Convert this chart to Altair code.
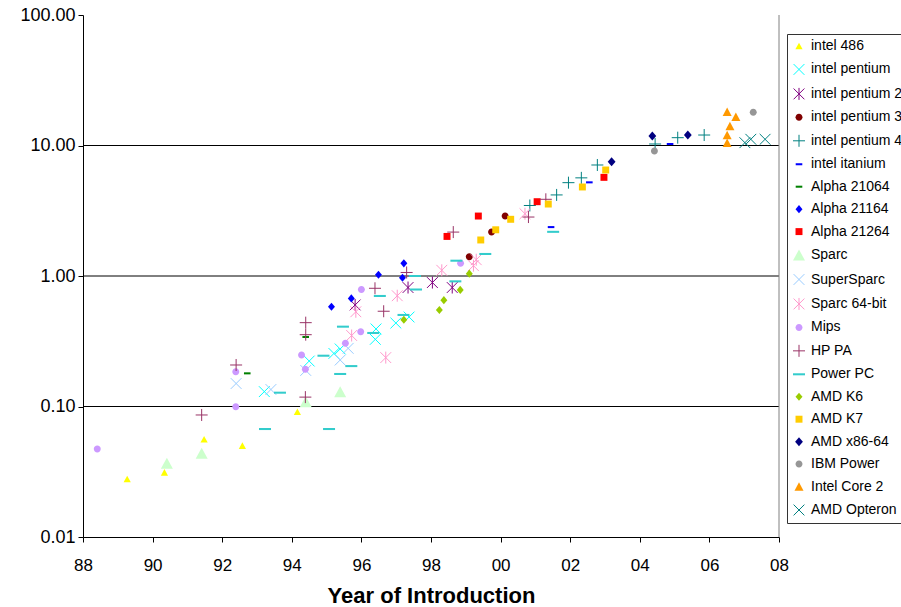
import altair as alt
import pandas as pd

SERIES = ["intel 486", "intel pentium", "intel pentium 2", "intel pentium 3",
          "intel pentium 4", "intel itanium", "Alpha 21064", "Alpha 21164",
          "Alpha 21264", "Sparc", "SuperSparc", "Sparc 64-bit", "Mips", "HP PA",
          "Power PC", "AMD K6", "AMD K7", "AMD x86-64", "IBM Power",
          "Intel Core 2", "AMD Opteron"]

# ---- data (year of introduction, relative performance) ----
i486_year = [1989.27, 1990.34, 1991.48, 1992.58, 1994.16]
i486_val = [0.0278, 0.0313, 0.0561, 0.0501, 0.0912]

pentium_year = [1993.21, 1994.50, 1995.21, 1995.39, 1996.42, 1996.40, 1996.99, 1997.37]
pentium_val = [0.130, 0.223, 0.255, 0.276, 0.393, 0.327, 0.436, 0.485]

pentium2_year = [1995.82, 1997.34, 1998.04, 1998.61]
pentium2_val = [0.600, 0.816, 0.891, 0.816]

pentium3_year = [1999.10, 1999.74, 2000.13]
pentium3_val = [1.406, 2.17, 2.88]

pentium4_year = [2000.84, 2001.61, 2001.95, 2002.32, 2002.78, 2004.44, 2005.09, 2005.85]
pentium4_val = [3.47, 4.18, 5.19, 5.65, 7.09, 10.27, 11.48, 12.03]

itanium_year = [2001.45, 2002.55, 2004.87]
itanium_val = [2.37, 5.22, 10.27]

alpha64_year = [1992.72, 1994.40]
alpha64_val = [0.1795, 0.341]

alpha164_year = [1995.14, 1995.71, 1996.49, 1997.18, 1997.22]
alpha164_val = [0.581, 0.673, 1.023, 0.970, 1.25]

alpha264_year = [1998.46, 1999.36, 2001.05, 2002.97]
alpha264_val = [2.01, 2.88, 3.71, 5.70]

sparc_year = [1990.41, 1991.41, 1994.40, 1995.39]
sparc_val = [0.0367, 0.0438, 0.1089, 0.1298]

supersparc_year = [1992.40, 1993.40, 1994.40, 1995.39, 1995.62]
supersparc_val = [0.150, 0.135, 0.189, 0.227, 0.279]

sparc64_year = [1995.72, 1995.84, 1996.70, 1997.03, 1998.31, 1999.30, 1999.22, 2000.70]
sparc64_val = [0.350, 0.532, 0.237, 0.706, 1.106, 1.333, 1.20, 3.00]

mips_year = [1988.41, 1992.39, 1992.39, 1994.28, 1994.39, 1995.54, 1995.98, 1996.00, 1998.85]
mips_val = [0.0472, 0.0996, 0.1849, 0.248, 0.193, 0.305, 0.374, 0.788, 1.25]

hppa_year = [1991.41, 1992.40, 1994.39, 1994.40, 1994.40, 1996.39, 1996.64, 1997.30,
             1998.64, 2000.80, 2001.30]
hppa_val = [0.0861, 0.208, 0.118, 0.355, 0.439, 0.805, 0.537, 1.064, 2.17, 2.83, 3.87]

ppc_year = [1993.23, 1993.66, 1994.91, 1995.07, 1995.39, 1995.47, 1995.71, 1996.34,
            1996.53, 1997.21, 1997.54, 1997.57, 1998.70, 1998.73, 1999.56, 2001.51]
ppc_val = [0.0672, 0.1276, 0.245, 0.0672, 0.1775, 0.409, 0.204, 0.366,
           0.703, 0.503, 1.00, 0.788, 0.910, 1.31, 1.475, 2.18]

k6_year = [1997.22, 1998.24, 1998.37, 1998.84, 1999.10]
k6_val = [0.462, 0.549, 0.653, 0.782, 1.042]

k7_year = [1999.43, 1999.86, 2000.29, 2001.37, 2002.35, 2003.02]
k7_val = [1.888, 2.26, 2.72, 3.56, 4.81, 6.49]

x8664_year = [2003.19, 2004.36, 2005.38]
x8664_val = [7.51, 11.82, 12.03]

ibm_year = [2004.42, 2007.26]
ibm_val = [9.08, 17.96]

core2_year = [2006.51, 2006.76, 2006.59, 2006.51, 2006.51]
core2_val = [18.15, 16.62, 14.10, 12.03, 10.51]

opteron_year = [2007.02, 2007.19, 2007.60]
opteron_val = [10.51, 11.16, 11.16]

GRID_VALUES = [0.1, 1, 10]
Y_TICKS = [0.01, 0.1, 1, 10, 100]
X_TICKS = list(range(1988, 2009, 2))
X_END = [2008]

SERIES_DATA = [
    ("intel 486", i486_year, i486_val),
    ("intel pentium", pentium_year, pentium_val),
    ("intel pentium 2", pentium2_year, pentium2_val),
    ("intel pentium 3", pentium3_year, pentium3_val),
    ("intel pentium 4", pentium4_year, pentium4_val),
    ("intel itanium", itanium_year, itanium_val),
    ("Alpha 21064", alpha64_year, alpha64_val),
    ("Alpha 21164", alpha164_year, alpha164_val),
    ("Alpha 21264", alpha264_year, alpha264_val),
    ("Sparc", sparc_year, sparc_val),
    ("SuperSparc", supersparc_year, supersparc_val),
    ("Sparc 64-bit", sparc64_year, sparc64_val),
    ("Mips", mips_year, mips_val),
    ("HP PA", hppa_year, hppa_val),
    ("Power PC", ppc_year, ppc_val),
    ("AMD K6", k6_year, k6_val),
    ("AMD K7", k7_year, k7_val),
    ("AMD x86-64", x8664_year, x8664_val),
    ("IBM Power", ibm_year, ibm_val),
    ("Intel Core 2", core2_year, core2_val),
    ("AMD Opteron", opteron_year, opteron_val),
]

rows = []
for name, ys, vs in SERIES_DATA:
    for y, v in zip(ys, vs):
        rows.append({"series": name, "year": y, "perf": v})
df = pd.DataFrame(rows)

# ---- styles ----
TRI_S = "M0,-0.55L0.6,0.55L-0.6,0.55Z"
TRI_M = "M0,-0.7L0.75,0.7L-0.75,0.7Z"
TRI_L = "M0,-0.92L1,0.92L-1,0.92Z"
XMARK = "M-0.9,-0.9L0.9,0.9M-0.9,0.9L0.9,-0.9"
ASTER = "M-0.9,-0.9L0.9,0.9M-0.9,0.9L0.9,-0.9M0,-1L0,1"
PLUS = "M-1,0L1,0M0,-1L0,1"
CIRC = "M-0.58,0A0.58,0.58,0,1,0,0.58,0A0.58,0.58,0,1,0,-0.58,0Z"
SQR = "M-0.58,-0.58L0.58,-0.58L0.58,0.58L-0.58,0.58Z"
DIAM = "M0,-0.68L0.58,0L0,0.68L-0.58,0Z"
DIAM_L = "M0,-0.75L0.65,0L0,0.75L-0.65,0Z"
DASH_S = "M-0.55,-0.17L0.55,-0.17L0.55,0.17L-0.55,0.17Z"
DASH_L = "M-1,-0.17L1,-0.17L1,0.17L-1,0.17Z"

STYLE = {
    "intel 486": ("#FFFF00", None, TRI_S),
    "intel pentium": (None, "#00FFFF", XMARK),
    "intel pentium 2": (None, "#800080", ASTER),
    "intel pentium 3": ("#800000", None, CIRC),
    "intel pentium 4": (None, "#008080", PLUS),
    "intel itanium": ("#0000FF", None, DASH_S),
    "Alpha 21064": ("#008000", None, DASH_S),
    "Alpha 21164": ("#0000FF", None, DIAM),
    "Alpha 21264": ("#FF0000", None, SQR),
    "Sparc": ("#CCFFCC", None, TRI_L),
    "SuperSparc": (None, "#99CCFF", XMARK),
    "Sparc 64-bit": (None, "#FF99CC", ASTER),
    "Mips": ("#CC99FF", None, CIRC),
    "HP PA": (None, "#993366", PLUS),
    "Power PC": ("#33CCCC", None, DASH_L),
    "AMD K6": ("#99CC00", None, DIAM),
    "AMD K7": ("#FFCC00", None, SQR),
    "AMD x86-64": ("#000080", None, DIAM_L),
    "IBM Power": ("#969696", None, CIRC),
    "Intel Core 2": ("#FF9900", None, TRI_M),
    "AMD Opteron": (None, "#008080", XMARK),
}
fill_range = [STYLE[s][0] or "transparent" for s in SERIES]
stroke_range = [STYLE[s][1] or "transparent" for s in SERIES]
shape_range = [STYLE[s][2] for s in SERIES]

FONT = "Liberation Sans"

xscale = alt.Scale(domain=[1988, 2008], nice=False, zero=False)
yscale = alt.Scale(type="log", domain=[0.01, 100], nice=False)

xaxis = alt.Axis(values=X_TICKS, labelExpr="substring(toString(datum.value), 2, 4)",
                 title="Year of Introduction", titleFontSize=22,
                 titleFontWeight="bold", titleFont=FONT, titleColor="black",
                 labelFontSize=17, labelFont=FONT, labelColor="black",
                 labelFlush=False, labelOverlap=False, labelPadding=15,
                 titlePadding=12, tickSize=5, tickColor="black",
                 domainColor="black", grid=False)
yaxis = alt.Axis(values=Y_TICKS, format=".2f", title=None,
                 labelFontSize=18, labelFont=FONT, labelColor="black",
                 labelFlush=False, labelOverlap=False, labelPadding=3,
                 tickSize=5, tickColor="black", domainColor="black",
                 grid=False)

legend = alt.Legend(title=None, orient="none", legendX=704, legendY=19,
                    strokeColor="#333333", fillColor="white", padding=5,
                    labelFontSize=14, labelFont=FONT, labelColor="black",
                    symbolSize=144, symbolStrokeWidth=1, symbolOpacity=1,
                    rowPadding=8.45, labelOffset=5, labelLimit=300)

grid = alt.Chart(pd.DataFrame({"perf": GRID_VALUES})).mark_rule(
    color="black", strokeWidth=1
).encode(y=alt.Y("perf:Q", scale=yscale, axis=yaxis))

right_border = alt.Chart(pd.DataFrame({"year": X_END})).mark_rule(
    color="#808080", strokeWidth=1
).encode(x=alt.X("year:Q", scale=xscale, axis=xaxis))

points = alt.Chart(df).mark_point(opacity=1, strokeWidth=1, size=144).encode(
    x=alt.X("year:Q", scale=xscale, axis=xaxis),
    y=alt.Y("perf:Q", scale=yscale, axis=yaxis),
    fill=alt.Fill("series:N", scale=alt.Scale(domain=SERIES, range=fill_range), legend=legend),
    stroke=alt.Stroke("series:N", scale=alt.Scale(domain=SERIES, range=stroke_range), legend=legend),
    shape=alt.Shape("series:N", scale=alt.Scale(domain=SERIES, range=shape_range), legend=legend),
)

chart = alt.layer(grid, right_border, points).properties(
    width=696, height=522,
    autosize=alt.AutoSizeParams(type="none"),
    padding={"left": 83, "top": 15, "right": 122, "bottom": 70},
    background="white",
).configure(font=FONT).configure_view(stroke=None)

chart.save("out.html", embed_options={"renderer": "svg", "actions": False})
